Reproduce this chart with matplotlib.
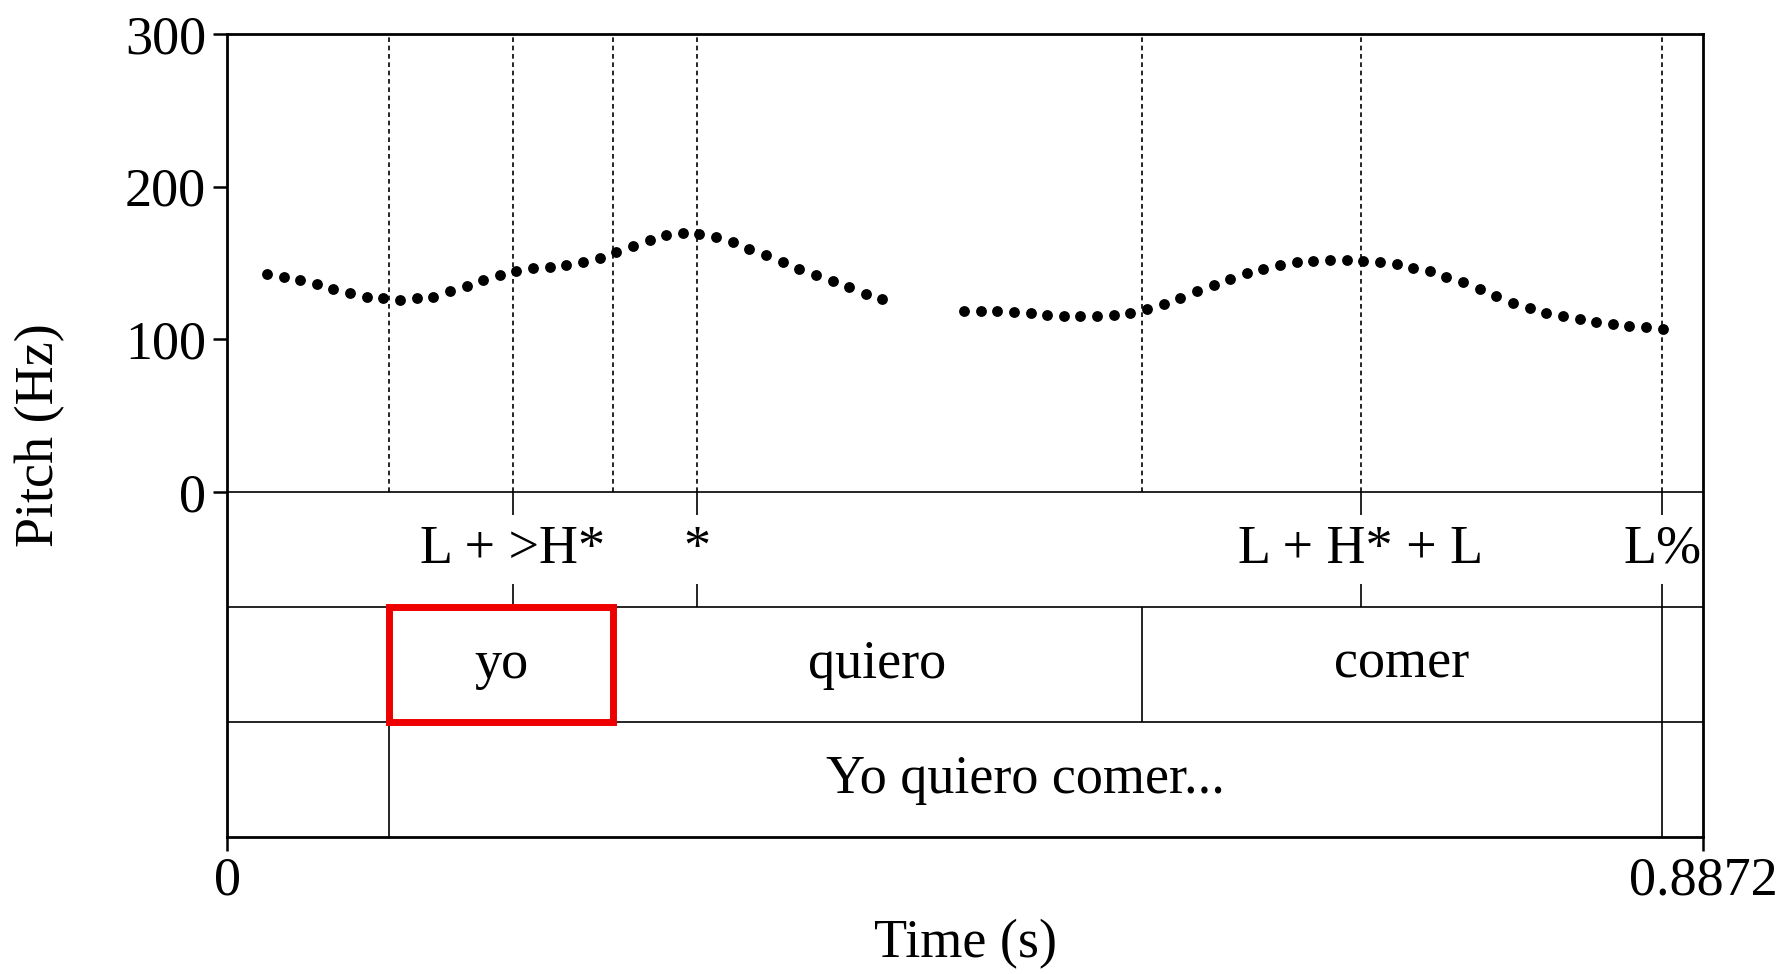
import matplotlib
matplotlib.use("Agg")
import matplotlib.pyplot as plt
from matplotlib.patches import Rectangle

plt.rcParams['font.family'] = ['Liberation Serif', 'DejaVu Serif']

t_end = 0.8872

# pitch track (10 ms frames), two voiced stretches
seg1_t = [0.024, 0.034, 0.044, 0.054, 0.064, 0.074, 0.084, 0.094, 0.104, 0.114,
          0.124, 0.134, 0.144, 0.154, 0.164, 0.174, 0.184, 0.194, 0.204, 0.214,
          0.224, 0.234, 0.244, 0.254, 0.264, 0.274, 0.284, 0.294, 0.304, 0.314,
          0.324, 0.334, 0.344, 0.354, 0.364, 0.374, 0.384, 0.394]
seg1_hz = [143, 141, 139, 136, 133, 130.5, 128, 127, 126, 127,
           128, 131.5, 135, 139, 142, 145, 146.5, 147.5, 149, 151,
           153.5, 157, 161, 165, 168.5, 169.5, 169, 167, 163.5, 159.5,
           155, 150.5, 146, 142, 138, 134, 130, 126.5]

seg2_t = [0.443, 0.453, 0.463, 0.473, 0.483, 0.493, 0.503, 0.513, 0.523, 0.533,
          0.543, 0.553, 0.563, 0.573, 0.583, 0.593, 0.603, 0.613, 0.623, 0.633,
          0.643, 0.653, 0.663, 0.673, 0.683, 0.693, 0.703, 0.713, 0.723, 0.733,
          0.743, 0.753, 0.763, 0.773, 0.783, 0.793, 0.803, 0.813, 0.823, 0.833,
          0.843, 0.853, 0.863]
seg2_hz = [118.5, 118.5, 118.5, 118, 117, 116, 115, 115, 115, 116,
           117, 120, 123, 127, 131.5, 135.5, 139.5, 143.5, 146, 149,
           150.5, 151.5, 152, 152, 151.5, 150.5, 149.5, 147, 144.5, 141,
           137.5, 133, 128.5, 124, 120.5, 117.5, 115, 113.5, 111.5, 110,
           108.5, 108, 107]

# tones tier (points)
tone_t = [0.1717, 0.2823, 0.6816, 0.8627]
tone_labels = ["L + >H*", "*", "L + H* + L", "L%"]

# words tier (intervals)
word_bounds = [0.0974, 0.2320, 0.5498, 0.8627]
words = ["yo", "quiero", "comer"]

# phrase tier
phrase_bounds = [0.0974, 0.8627]
phrase = "Yo quiero comer..."

fs = 39
tier_h = 75.3
y_bottom = -3 * tier_h

fig = plt.figure(figsize=(17.8, 9.74), dpi=100)
ax = fig.add_axes([227 / 1780, 1 - 837 / 974, (1703 - 227) / 1780, (837 - 34) / 974])
ax.set_xlim(0, t_end)
ax.set_ylim(y_bottom, 300)

# dotted guide lines through the pitch area
marks = sorted(set(word_bounds + tone_t))
ax.vlines(marks, 0, 300, colors='k', linestyles=(0, (2.8, 2.2)), lw=1.2)

# pitch dots
ax.plot(seg1_t, seg1_hz, 'o', color='k', ms=7.8, mec='none')
ax.plot(seg2_t, seg2_hz, 'o', color='k', ms=7.8, mec='none')

# tier separators
for k in range(3):
    ax.axhline(-k * tier_h, color='k', lw=1.2)

# tone tier
tick = 0.2 * tier_h
for t, lab in zip(tone_t, tone_labels):
    ax.vlines(t, -tick, 0, colors='k', lw=1.2)
    ax.vlines(t, -tier_h, -tier_h + tick, colors='k', lw=1.2)
    ax.text(t, -tier_h / 2, lab, ha='center', va='center', fontsize=fs)

# word tier
ax.vlines(word_bounds, -2 * tier_h, -tier_h, colors='k', lw=1.2)
for a, b, w in zip(word_bounds[:-1], word_bounds[1:], words):
    ax.text((a + b) / 2, -1.5 * tier_h, w, ha='center', va='center', fontsize=fs)

# phrase tier
ax.vlines(phrase_bounds, y_bottom, -2 * tier_h, colors='k', lw=1.2)
ax.text(sum(phrase_bounds) / 2, -2.5 * tier_h, phrase, ha='center', va='center', fontsize=fs)

# highlight box on "yo"
ax.add_patch(Rectangle((word_bounds[0], -2 * tier_h), word_bounds[1] - word_bounds[0], tier_h,
                       fill=False, ec='#ee0000', lw=5, zorder=5))

for s in ax.spines.values():
    s.set_linewidth(2)

ax.set_yticks([0, 100, 200, 300])
ax.set_xticks([0, t_end])
ax.set_xticklabels(['0', '0.8872'])
ax.tick_params(direction='out', length=10, width=1.8, labelsize=fs)
ax.tick_params(axis='y', pad=5)
ax.tick_params(axis='x', pad=4)

ax.set_xlabel('Time (s)', fontsize=fs)
ax.xaxis.set_label_coords(0.5, (837 - 944) / 803)
ax.xaxis.label.set_va('center')
ax.set_ylabel('Pitch (Hz)', fontsize=fs)
ax.yaxis.set_label_coords((40 - 227) / 1476, 0.5)
ax.yaxis.label.set_va('center')

fig.savefig('out.png', dpi=100)
